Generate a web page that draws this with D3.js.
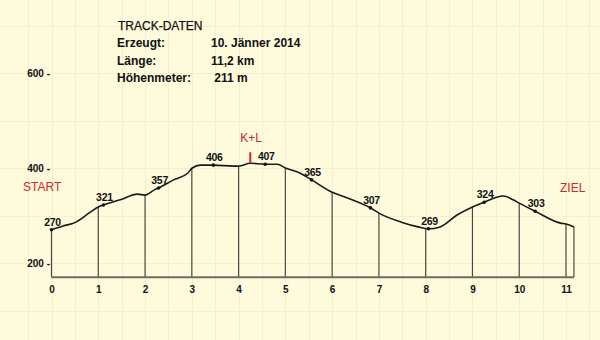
<!DOCTYPE html>
<html><head><meta charset="utf-8">
<script src="https://cdn.jsdelivr.net/npm/d3@7"></script>
<style>html,body{margin:0;padding:0;background:#FEFADC;}svg{display:block;}</style>
</head><body>
<svg id="c" width="600" height="340"></svg>
<script>
// ---- data ----
const profileKm   = [0,0.25,0.5,0.83,1.0,1.11,1.47,1.84,2.0,2.2,2.29,2.61,2.91,3.01,3.18,3.46,3.89,4.0,4.25,4.57,4.83,5.0,5.32,5.56,6.0,6.33,6.82,7.0,7.48,7.84,8.06,8.31,8.67,9.0,9.25,9.66,9.87,10.0,10.34,10.88,11.0,11.17];
const profileElev = [270,278,285,307,318,322,333,345,343,354,358,375,389,400,406,406,404,404,410,408,408,400,389,375,349,337,316,305,286,276,272,276,301,318,328,341,333,326,309,284,282,276];
const labelKm     = [0,1.11,2.29,3.46,4.57,5.56,6.82,8.06,9.25,10.34];
const labelText   = ["270","321","357","406","407","365","307","269","324","303"];
const xTicks      = [0,1,2,3,4,5,6,7,8,9,10,11];
const yTicks      = [200,400,600];
const infoKeys    = ["Erzeugt:","Länge:","Höhenmeter:"];
const infoVals    = ["10. Jänner 2014","11,2 km"," 211 m"];
const baseElev = 170, endKm = 11.17, klKm = 4.25;

// ---- drawing ----
const svg = d3.select("#c");
const F = "'Liberation Sans', Arial, sans-serif";
const x = d3.scaleLinear().domain([0,11]).range([51.5,566]);
const y = d3.scaleLinear().domain([200,600]).range([263,73]);
const elevAt = km => {
  const i = d3.bisectLeft(profileKm, km);
  if (i <= 0) return profileElev[0];
  if (i >= profileKm.length) return profileElev[profileElev.length-1];
  const k0 = profileKm[i-1], k1 = profileKm[i];
  return profileElev[i-1] + (profileElev[i]-profileElev[i-1])*(km-k0)/(k1-k0);
};

// faint paper grid
const g0 = svg.append("g").attr("stroke","#F6EFCF").attr("stroke-width",1);
d3.range(-1, 24).forEach(i => { const xx = Math.round(x(i*0.5))+0.5; g0.append("line").attr("x1",xx).attr("x2",xx).attr("y1",0).attr("y2",340); });
d3.range(0, 9).forEach(i => { const yy = Math.round(y(100*i))+0.5; g0.append("line").attr("x1",0).attr("x2",600).attr("y1",yy).attr("y2",yy); });

// info block
svg.append("text").attr("x",118).attr("y",30).attr("font-family",F).attr("font-size",12).attr("fill","#111").attr("stroke","#111").attr("stroke-width",0.25).text("TRACK-DATEN");
infoKeys.forEach((k,i) => {
  svg.append("text").attr("x",117).attr("y",47+i*17.5).attr("font-family",F).attr("font-size",12).attr("font-weight","bold").attr("fill","#111").text(k);
  svg.append("text").attr("x",211).attr("y",47+i*17.5).attr("font-family",F).attr("font-size",12).attr("font-weight","bold").attr("fill","#111").attr("xml:space","preserve").text(infoVals[i]);
});

// y axis
const ya = svg.append("g").attr("transform","translate(52,0)")
  .call(d3.axisLeft(y).tickValues(yTicks).tickSize(0).tickPadding(2).tickFormat(d => d + " -"));
ya.select(".domain").remove();
ya.selectAll("text").attr("font-family",F).attr("font-size",10).attr("font-weight","bold").attr("fill","#111");

// x axis labels
const xa = svg.append("g").attr("transform",`translate(0,${y(baseElev)})`)
  .call(d3.axisBottom(x).tickValues(xTicks).tickSize(0).tickPadding(9).tickFormat(d3.format("d")));
xa.select(".domain").remove();
xa.selectAll("text").attr("font-family",F).attr("font-size",10).attr("font-weight","bold").attr("fill","#111");

// vertical km lines
svg.append("g").selectAll("line").data(xTicks.concat([endKm])).join("line")
  .attr("x1",d=>x(d)).attr("x2",d=>x(d))
  .attr("y1",y(baseElev)).attr("y2",d=>y(elevAt(d)))
  .attr("stroke","#4a4a44").attr("stroke-width",1.2);

// baseline
svg.append("line").attr("x1",x(0)).attr("x2",x(endKm)).attr("y1",y(baseElev)).attr("y2",y(baseElev))
  .attr("stroke","#6e6c62").attr("stroke-width",2.2);

// profile line
const pts = profileKm.map((k,i)=>[k,profileElev[i]]);
svg.append("path").datum(pts)
  .attr("d", d3.line().x(d=>x(d[0])).y(d=>y(d[1])).curve(d3.curveMonotoneX))
  .attr("fill","none").attr("stroke","#1a1a1a").attr("stroke-width",1.6);

// labels
labelKm.forEach((k,i) => {
  const px = x(k), py = y(elevAt(k));
  svg.append("circle").attr("cx",px).attr("cy",py).attr("r",1.8).attr("fill","#111");
  svg.append("text").attr("x",px+1).attr("y",py-4).attr("text-anchor","middle")
    .attr("font-family",F).attr("font-size",10.5).attr("font-weight","bold").attr("fill","#111").attr("letter-spacing","-0.3").text(labelText[i]);
});

// red annotations
const red = "#CC2A2A";
svg.append("text").attr("x",23).attr("y",191).attr("font-family",F).attr("font-size",12).attr("fill",red).text("START");
svg.append("text").attr("x",560).attr("y",192).attr("font-family",F).attr("font-size",12).attr("fill",red).text("ZIEL");
svg.append("text").attr("x",251).attr("y",142).attr("text-anchor","middle").attr("font-family",F).attr("font-size",12).attr("fill",red).text("K+L");
svg.append("line").attr("x1",x(klKm)).attr("x2",x(klKm)).attr("y1",y(elevAt(klKm))-11).attr("y2",y(elevAt(klKm)))
  .attr("stroke",red).attr("stroke-width",2);
</script>
</body></html>
